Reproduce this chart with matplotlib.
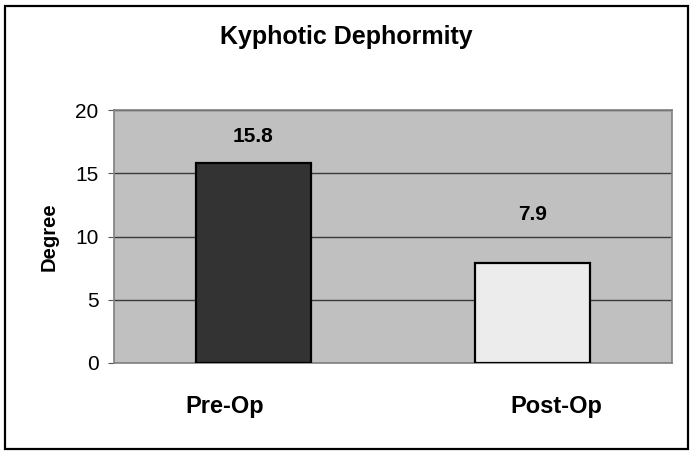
import matplotlib.pyplot as plt
import matplotlib.transforms as mtransforms
from matplotlib.patches import Rectangle

# Data
categories = ["Pre-Op", "Post-Op"]
values = [15.8, 7.9]
y_ticks = [0, 5, 10, 15, 20]

# Styles
bar_colors = ["#333333", "#ececec"]
label_offsets = [19, 35]        # points above the bar top
cat_label_shift = [-21, 17]     # horizontal shift of category labels, points

plt.rcParams['font.family'] = ['Liberation Sans', 'DejaVu Sans']

fig = plt.figure(figsize=(6.93, 4.55), dpi=100)
ax = fig.add_axes([114 / 693, 92 / 455, 558 / 693, 253 / 455])

# Outer chart border
fig.patches.append(Rectangle((5 / 693, 6 / 455), 683 / 693, 443 / 455,
                             transform=fig.transFigure, fill=False,
                             edgecolor="black", linewidth=1.6))

x = range(len(categories))
ax.bar(x, values, width=0.41, color=bar_colors,
       edgecolor="black", linewidth=1.6, zorder=3)

for xi, v, off in zip(x, values, label_offsets):
    ax.annotate(f"{v}", (xi, v), xytext=(0, off), textcoords="offset points",
                ha="center", va="center", fontsize=15, fontweight="bold")

ax.set_facecolor("#c0c0c0")
ax.set_xlim(-0.5, 1.5)
ax.set_ylim(0, 20)
ax.set_yticks(y_ticks)
ax.yaxis.grid(True, color="#3a3a3a", linewidth=1.0, zorder=0)
ax.set_axisbelow(True)

ax.set_xticks(list(x))
ax.set_xticklabels(categories, fontsize=17, fontweight="bold")
ax.tick_params(axis="x", length=0, pad=23)
ax.tick_params(axis="y", labelsize=15, length=4, color="#555555", pad=7)

# Excel-style category labels sit a bit off the bar centres
for lbl, dx in zip(ax.get_xticklabels(), cat_label_shift):
    lbl.set_transform(lbl.get_transform() +
                      mtransforms.ScaledTranslation(dx / 72, 0, fig.dpi_scale_trans))

for side in ["top", "right", "left", "bottom"]:
    ax.spines[side].set_color("#808080")
    ax.spines[side].set_linewidth(1.2)

ax.set_ylabel("Degree", fontsize=14.5, fontweight="bold")
ax.yaxis.set_label_coords(-0.10, 0.5)

fig.text(0.5, 1 - 37 / 455, "Kyphotic Dephormity", ha="center", va="center",
         fontsize=18, fontweight="bold")

fig.savefig("out.png", dpi=100)
